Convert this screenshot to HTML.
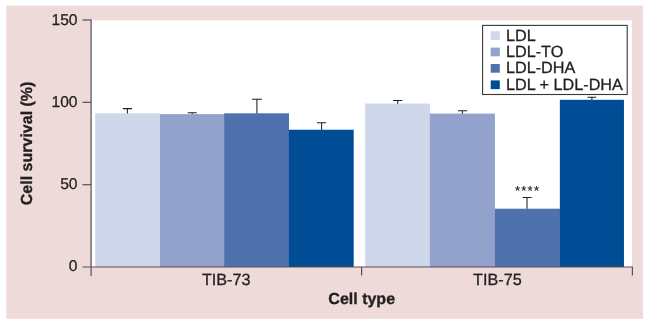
<!DOCTYPE html>
<html>
<head>
<meta charset="utf-8">
<style>
html,body{margin:0;padding:0;background:#ffffff;}
body{width:649px;height:325px;overflow:hidden;font-family:"Liberation Sans",sans-serif;}
svg{display:block;will-change:transform;font-size:16px;}
text{font-family:"Liberation Sans",sans-serif;fill:#231f20;stroke:#231f20;stroke-width:0.3px;text-rendering:geometricPrecision;}
.b{font-weight:bold;}
</style>
</head>
<body>
<svg width="649" height="325" viewBox="0 0 649 325">
  <rect x="0" y="0" width="649" height="325" fill="#ffffff"/>
  <!-- pink panel -->
  <rect x="6.3" y="5.7" width="636.7" height="313.1" fill="#eedbd9"/>
  <!-- plot area -->
  <rect x="91.1" y="20.3" width="540.8" height="246.7" fill="#ffffff"/>

  <!-- bars -->
  <rect x="95.2" y="113.3" width="64.9" height="153.7" fill="#cfd7eb"/>
  <rect x="160" y="114.1" width="64.2" height="152.9" fill="#92a2cc"/>
  <rect x="224.1" y="113.3" width="64.9" height="153.7" fill="#4f72af"/>
  <rect x="288.9" y="129.75" width="64.8" height="137.25" fill="#004d96"/>

  <rect x="365.2" y="103.55" width="64.75" height="163.45" fill="#cfd7eb"/>
  <rect x="429.85" y="113.6" width="65.1" height="153.4" fill="#92a2cc"/>
  <rect x="494.85" y="208.7" width="65.1" height="58.3" fill="#4f72af"/>
  <rect x="559.85" y="99.8" width="64.1" height="167.2" fill="#004d96"/>

  <!-- error bars -->
  <g stroke="#231f20" stroke-width="1.05" fill="none">
    <path d="M127.4 113.5V108.6M122.7 108.6H132"/>
    <path d="M192.2 114.1V112.8M187.7 112.8H196.7"/>
    <path d="M256.9 113.5V99.3M251.9 99.3H261.9"/>
    <path d="M321.6 129.9V122.8M317 122.8H326.2"/>
    <path d="M397.7 103.7V100.5M393.1 100.5H402.3"/>
    <path d="M462.4 113.8V110.8M457.9 110.8H467.1"/>
    <path d="M527 208.8V197.4M522.7 197.4H531.6"/>
    <path d="M591.9 99.9V97.3M587.5 97.3H596.3"/>
  </g>

  <!-- axes -->
  <g stroke="#564f52" stroke-width="1.2" fill="none">
    <path d="M91.1 19.4V275.9"/>
    <path d="M82.4 267H633"/>
    <path d="M82.4 20H91.1"/>
    <path d="M82.4 102.3H91.1"/>
    <path d="M82.4 184.7H91.1"/>
    <path d="M361.6 267V275.5"/>
    <path d="M632.4 267V275.6"/>
  </g>

  <!-- y tick labels -->
  <g style="font-size:15.6px">
  <text x="77.5" y="24.9" text-anchor="end">150</text>
  <text x="77.5" y="107" text-anchor="end">100</text>
  <text x="77.5" y="189.4" text-anchor="end">50</text>
  <text x="77.5" y="271.1" text-anchor="end">0</text>
  </g>

  <!-- x tick labels -->
  <text x="226.2" y="285" text-anchor="middle" style="font-size:16.2px">TIB-73</text>
  <text x="497.4" y="285" text-anchor="middle" style="font-size:16.2px">TIB-75</text>

  <!-- axis titles -->
  <text class="b" x="361.7" y="303.9" text-anchor="middle">Cell type</text>
  <text class="b" transform="translate(32.4 143.4) rotate(-90)" text-anchor="middle">Cell survival (%)</text>

  <!-- stars -->
  <text x="527.6" y="195.4" text-anchor="middle" style="font-size:13px;letter-spacing:1.25px;stroke-width:0.15px">****</text>

  <!-- legend -->
  <rect x="482.6" y="25.4" width="144.6" height="69.1" fill="#ffffff" stroke="#3a3638" stroke-width="1.1"/>
  <rect x="490.7" y="31.2" width="9.1" height="8.7" fill="#cfd7eb"/>
  <rect x="490.7" y="47.6" width="9.1" height="8.7" fill="#92a2cc"/>
  <rect x="490.7" y="64" width="9.1" height="8.7" fill="#4f72af"/>
  <rect x="490.7" y="80.4" width="9.1" height="8.7" fill="#004d96"/>
  <g style="font-size:16.2px">
  <text x="506" y="40.6">LDL</text>
  <text x="506" y="57">LDL-TO</text>
  <text x="506" y="73.4">LDL-DHA</text>
  <text x="506" y="89.8">LDL + LDL-DHA</text>
  </g>
</svg>
</body>
</html>
